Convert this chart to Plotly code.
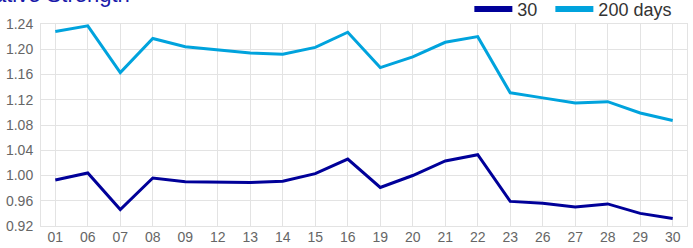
import plotly.graph_objects as go

categories = ["01", "06", "07", "08", "09", "12", "13", "14", "15", "16",
              "19", "20", "21", "22", "23", "26", "27", "28", "29", "30"]
rs_30 = [0.993, 1.004, 0.946, 0.996, 0.990, 0.989, 0.989, 0.991, 1.003, 1.026,
         0.981, 1.000, 1.023, 1.033, 0.959, 0.956, 0.950, 0.955, 0.940, 0.932]
rs_200 = [1.228, 1.237, 1.163, 1.217, 1.204, 1.199, 1.194, 1.192, 1.203, 1.227,
          1.171, 1.188, 1.211, 1.220, 1.131, 1.123, 1.115, 1.117, 1.099, 1.087]
y_ticks = [0.92, 0.96, 1.00, 1.04, 1.08, 1.12, 1.16, 1.20, 1.24]

DARK = "#000099"
LIGHT = "#00A3DD"
GRID = "#e3e3e3"

x = list(range(len(categories)))

fig = go.Figure()
fig.add_trace(go.Scatter(x=x, y=rs_30, mode="lines", line=dict(color=DARK, width=3),
                         showlegend=False, hoverinfo="skip"))
fig.add_trace(go.Scatter(x=x, y=rs_200, mode="lines", line=dict(color=LIGHT, width=3),
                         showlegend=False, hoverinfo="skip"))
# legend entries
fig.add_trace(go.Scatter(x=[None], y=[None], mode="lines", name="30",
                         line=dict(color=DARK, width=6), legend="legend"))
fig.add_trace(go.Scatter(x=[None], y=[None], mode="lines", name="200 days",
                         line=dict(color=LIGHT, width=6), legend="legend2"))

leg_common = dict(orientation="h", xanchor="left", y=1.073, yanchor="middle",
                  font=dict(size=18, color="#333333"), bgcolor="rgba(0,0,0,0)",
                  itemwidth=38)

fig.update_layout(
    width=693, height=248,
    margin=dict(l=41, r=6, t=24, b=22, autoexpand=False),
    paper_bgcolor="white", plot_bgcolor="white",
    font=dict(family="Liberation Sans, Arial, sans-serif", size=14, color="#666666"),
    legend=dict(x=0.6631, **leg_common),
    legend2=dict(x=0.7885, **leg_common),
    annotations=[dict(text="Relative Strength", xref="paper", yref="paper",
                      x=-0.1263, y=1.076, xanchor="left", yanchor="bottom",
                      showarrow=False, font=dict(size=22, color="#1a1aaa"))],
)
fig.update_xaxes(
    tickmode="array", tickvals=x, ticktext=categories,
    range=[-0.44, len(categories) - 1 + 0.44],
    showgrid=True, gridcolor=GRID, gridwidth=1,
    showline=True, linecolor=GRID, linewidth=1, mirror=True,
    zeroline=False, ticks="", ticklabelstandoff=-2,
)
fig.update_yaxes(
    range=[0.92, 1.24], tickmode="array", tickvals=y_ticks,
    ticktext=[f"{v:.2f}" for v in y_ticks],
    showgrid=True, gridcolor=GRID, gridwidth=1,
    showline=True, linecolor=GRID, linewidth=1, mirror=True,
    zeroline=False, ticks="", ticklabelstandoff=4,
)

fig.write_html("out.html", config={"displayModeBar": False},
               post_script="document.body.style.margin='0';document.body.style.overflow='hidden';")
